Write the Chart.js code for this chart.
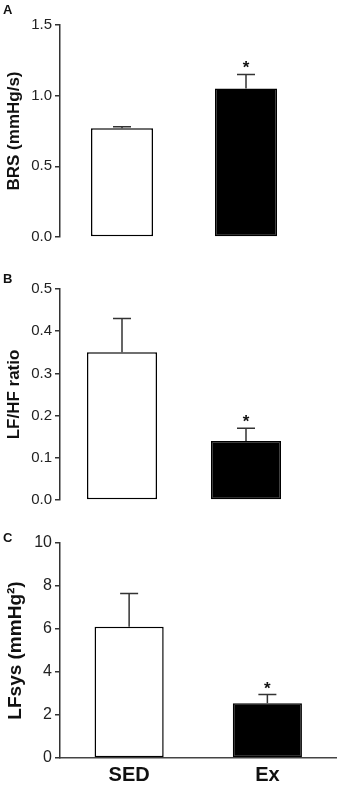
<!DOCTYPE html>
<html><head><meta charset="utf-8">
<script src="https://cdn.jsdelivr.net/npm/chart.js@4/dist/chart.umd.min.js"></script>
<style>
html,body{margin:0;padding:0;background:#fff;width:340px;height:785px;overflow:hidden;}
canvas{position:absolute;left:0;}
</style></head><body>
<canvas id="cA" width="340" height="250" style="top:0"></canvas>
<canvas id="cB" width="340" height="270" style="top:250px"></canvas>
<canvas id="cC" width="340" height="265" style="top:520px"></canvas>
<script>
const categories = ['SED', 'Ex'];
const brsMean = [0.77, 1.05];
const brsErr = [0.01, 0.10];
const lfhfMean = [0.35, 0.14];
const lfhfErr = [0.08, 0.03];
const lfsysMean = [6.1, 2.55];
const lfsysErr = [1.55, 0.40];
const significant = [false, true];
const ticksBRS = [0, 0.5, 1.0, 1.5];
const ticksLFHF = [0, 0.1, 0.2, 0.3, 0.4, 0.5];
const ticksLFsys = [0, 2, 4, 6, 8, 10];
const fillColors = ['#ffffff', '#000000'];

const FONT = '"Liberation Sans", Arial, sans-serif';

const errPlugin = {
  id: 'errbars',
  afterDatasetsDraw(chart, args, opts) {
    const ctx = chart.ctx;
    const meta = chart.getDatasetMeta(0);
    const ys = chart.scales.y;
    ctx.save();
    meta.data.forEach((bar, i) => {
      const v = opts.mean[i], e = opts.err[i];
      const x = bar.x;
      const y0 = ys.getPixelForValue(v);
      const y1 = ys.getPixelForValue(v + e);
      ctx.strokeStyle = '#333'; ctx.lineWidth = 1.5;
      ctx.beginPath();
      ctx.moveTo(x, y0); ctx.lineTo(x, y1);
      ctx.moveTo(x - 9, y1); ctx.lineTo(x + 9, y1);
      ctx.stroke();
      if (opts.sig[i]) {
        ctx.fillStyle = '#111';
        ctx.font = 'bold 17px ' + FONT;
        ctx.textAlign = 'center'; ctx.textBaseline = 'alphabetic';
        ctx.fillText('*', x, y1 - 1);
      }
    });
    ctx.fillStyle = '#111';
    ctx.font = 'bold 13px ' + FONT;
    ctx.textAlign = 'left'; ctx.textBaseline = 'alphabetic';
    ctx.fillText(opts.letter, 3, opts.letterY);
    ctx.restore();
  }
};

function makeChart(id, mean, err, ticks, title, cfg) {
  return new Chart(document.getElementById(id), {
    type: 'bar',
    data: {
      labels: categories,
      datasets: [{
        data: mean,
        backgroundColor: fillColors,
        borderColor: '#000',
        borderWidth: 1.5,
        borderSkipped: false,
        categoryPercentage: cfg.cat,
        barPercentage: 1
      }]
    },
    options: {
      responsive: false,
      animation: false,
      devicePixelRatio: 1,
      layout: { padding: { top: cfg.top, bottom: cfg.bottom, left: 0, right: cfg.right } },
      plugins: {
        legend: { display: false },
        tooltip: { enabled: false },
        errbars: { mean: mean, err: err, sig: significant, letter: cfg.letter, letterY: cfg.letterY }
      },
      scales: {
        x: cfg.showX ? {
          display: true,
          grid: { display: false, drawTicks: false },
          border: { display: true, color: '#444', width: 1.5 },
          ticks: { color: '#111', padding: 5, font: { family: FONT, size: 20, weight: 'bold' } },
          afterFit: s => { s.height = 27; }
        } : { display: false },
        y: {
          min: 0,
          max: ticks[ticks.length - 1],
          afterBuildTicks: s => { s.ticks = ticks.map(v => ({ value: v })); },
          afterFit: s => { s.width = 60; },
          ticks: {
            color: '#222',
            padding: 3,
            font: { family: FONT, size: cfg.tickSize },
            callback: v => cfg.dec ? Number(v).toFixed(1) : String(v)
          },
          grid: { drawOnChartArea: false, drawTicks: true, tickLength: 5, color: '#333', lineWidth: 1.5 },
          border: { display: true, color: '#333', width: 1.5 },
          title: {
            display: true, text: title, color: '#111',
            font: { family: FONT, size: cfg.titleSize, weight: 'bold' },
            padding: { top: 4, bottom: 0 }
          }
        }
      }
    },
    plugins: [errPlugin]
  });
}

makeChart('cA', brsMean, brsErr, ticksBRS, 'BRS (mmHg/s)',
  { cat: 0.5, top: 25, bottom: 13, right: 32, showX: false, tickSize: 15, dec: true, titleSize: 17, letter: 'A', letterY: 14 });
makeChart('cB', lfhfMean, lfhfErr, ticksLFHF, 'LF/HF ratio',
  { cat: 0.565, top: 39, bottom: 20, right: 32, showX: false, tickSize: 15, dec: true, titleSize: 17, letter: 'B', letterY: 33 });
makeChart('cC', lfsysMean, lfsysErr, ticksLFsys, 'LFsys (mmHg²)',
  { cat: 0.5, top: 23, bottom: 0, right: 3.5, showX: true, tickSize: 16, dec: false, titleSize: 19, letter: 'C', letterY: 22 });
</script>
</body></html>
